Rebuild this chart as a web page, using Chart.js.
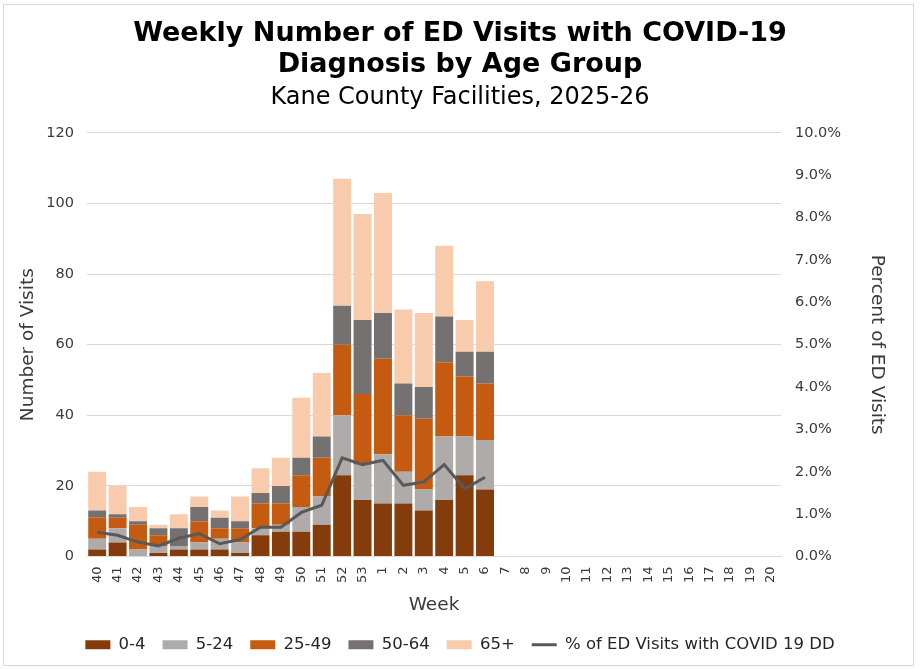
<!DOCTYPE html>
<html>
<head>
<meta charset="utf-8">
<title>Weekly Number of ED Visits with COVID-19 Diagnosis by Age Group</title>
<script src="https://cdn.jsdelivr.net/npm/chart.js@4.4.1/dist/chart.umd.min.js"></script>
<style>
  html, body { margin: 0; padding: 0; background: #fff; }
  #wrap { position: relative; width: 920px; height: 669px; }
  #frame {
    position: absolute; left: 3px; top: 4px; width: 909px; height: 660px;
    border: 1px solid #d9d9d9; pointer-events: none;
  }
</style>
</head>
<body>
<div id="wrap">
  <canvas id="edChart" width="920" height="669"></canvas>
  <div id="frame"></div>
</div>
<script>
// Week labels (MMWR weeks 40-53 of 2025, 1-20 of 2026)
const weeks = ['40', '41', '42', '43', '44', '45', '46', '47', '48', '49', '50', '51', '52', '53',
    '1', '2', '3', '4', '5', '6', '7', '8', '9', '10', '11', '12', '13', '14', '15', '16', '17', '18', '19', '20'];

// Visits by age group
const age0to4   = [2, 4, 0, 1, 2, 2, 2, 1, 6, 7, 7, 9, 23, 16, 15, 15, 13, 16, 23, 19];
const age5to24  = [3, 4, 2, 2, 1, 2, 3, 3, 2, 2, 7, 8, 17, 10, 14, 9, 6, 18, 11, 14];
const age25to49 = [6, 3, 7, 3, 0, 6, 3, 4, 7, 6, 9, 11, 20, 20, 27, 16, 20, 21, 17, 16];
const age50to64 = [2, 1, 1, 2, 5, 4, 3, 2, 3, 5, 5, 6, 11, 21, 13, 9, 9, 13, 7, 9];
const age65plus = [11, 8, 4, 1, 4, 3, 2, 7, 7, 8, 17, 18, 36, 30, 34, 21, 21, 20, 9, 20];

// % of all ED visits with a COVID-19 diagnosis
const pctCovid = [0.57, 0.50, 0.34, 0.25, 0.43, 0.54, 0.30, 0.40, 0.69, 0.69, 1.04, 1.21, 2.33, 2.17,
    2.27, 1.68, 1.76, 2.17, 1.60, 1.87];

const visitTicks = [0, 20, 40, 60, 80, 100, 120];
const pctTicks = [0, 1, 2, 3, 4, 5, 6, 7, 8, 9, 10];

Chart.defaults.font.family = "'DejaVu Sans', Verdana, sans-serif";
Chart.defaults.color = '#3a3a3a';

function barSet(label, data, color) {
    return {
        type: 'bar',
        label: label,
        data: data,
        backgroundColor: color,
        borderWidth: 0,
        pointStyle: 'rect',
        yAxisID: 'y',
        order: 1
    };
}

const ctx = document.getElementById('edChart').getContext('2d');
new Chart(ctx, {
    data: {
        labels: weeks,
        datasets: [
            barSet('0-4', age0to4, '#843c0c'),
            barSet('5-24', age5to24, '#afabab'),
            barSet('25-49', age25to49, '#c55a11'),
            barSet('50-64', age50to64, '#767171'),
            barSet('65+', age65plus, '#f8cbad'),
            {
                type: 'line',
                label: '% of ED Visits with COVID 19 DD',
                data: pctCovid,
                borderColor: '#595959',
                backgroundColor: '#595959',
                borderWidth: 3,
                pointRadius: 0,
                pointStyle: 'line',
                tension: 0,
                yAxisID: 'y1',
                order: 0
            }
        ]
    },
    options: {
        responsive: false,
        animation: false,
        maintainAspectRatio: false,
        layout: { padding: { left: 0, right: 0, top: 0, bottom: 6 } },
        datasets: {
            bar: { categoryPercentage: 1, barPercentage: 0.88 }
        },
        plugins: {
            title: {
                display: true,
                text: ['Weekly Number of ED Visits with COVID-19', 'Diagnosis by Age Group'],
                color: '#000',
                font: { size: 27, weight: 'bold', lineHeight: 1.15 },
                padding: { top: 18, bottom: 3 }
            },
            subtitle: {
                display: true,
                text: 'Kane County Facilities, 2025-26',
                color: '#000',
                font: { size: 24, lineHeight: 1.2 },
                padding: { top: 0, bottom: 21 }
            },
            legend: {
                position: 'bottom',
                labels: {
                    sort: (a, b) => a.datasetIndex - b.datasetIndex,
                    usePointStyle: true,
                    pointStyleWidth: 25,
                    boxWidth: 25,
                    boxHeight: 9,
                    padding: 17,
                    color: '#262626',
                    font: { size: 16.5 }
                }
            },
            tooltip: { enabled: false }
        },
        scales: {
            x: {
                stacked: true,
                grid: { display: false, drawTicks: false },
                border: { display: true, color: '#d9d9d9' },
                ticks: {
                    autoSkip: false,
                    minRotation: 90,
                    maxRotation: 90,
                    padding: 10,
                    font: { size: 13 }
                },
                title: {
                    display: true,
                    text: 'Week',
                    font: { size: 18.5 },
                    padding: { top: 0, bottom: 3 }
                },
                afterFit: (scale) => { scale.height = 63; }
            },
            y: {
                stacked: true,
                position: 'left',
                min: 0,
                max: 120,
                afterBuildTicks: (scale) => { scale.ticks = visitTicks.map(v => ({ value: v })); },
                grid: { color: '#d9d9d9', drawTicks: false },
                border: { display: false },
                ticks: { padding: 13, font: { size: 14.5 } },
                title: {
                    display: true,
                    text: 'Number of Visits',
                    font: { size: 18.5 },
                    padding: { top: 17, bottom: 0 }
                },
                afterFit: (scale) => { scale.width = 87; }
            },
            y1: {
                position: 'right',
                min: 0,
                max: 10,
                afterBuildTicks: (scale) => { scale.ticks = pctTicks.map(v => ({ value: v })); },
                grid: { display: false, drawTicks: false },
                border: { display: false },
                ticks: {
                    padding: 14,
                    font: { size: 14.5 },
                    callback: (v) => Number(v).toFixed(1) + '%'
                },
                title: {
                    display: true,
                    text: 'Percent of ED Visits',
                    font: { size: 18.5 },
                    padding: { top: 32, bottom: 0 }
                },
                afterFit: (scale) => { scale.width = 139; }
            }
        }
    }
});
</script>
</body>
</html>
